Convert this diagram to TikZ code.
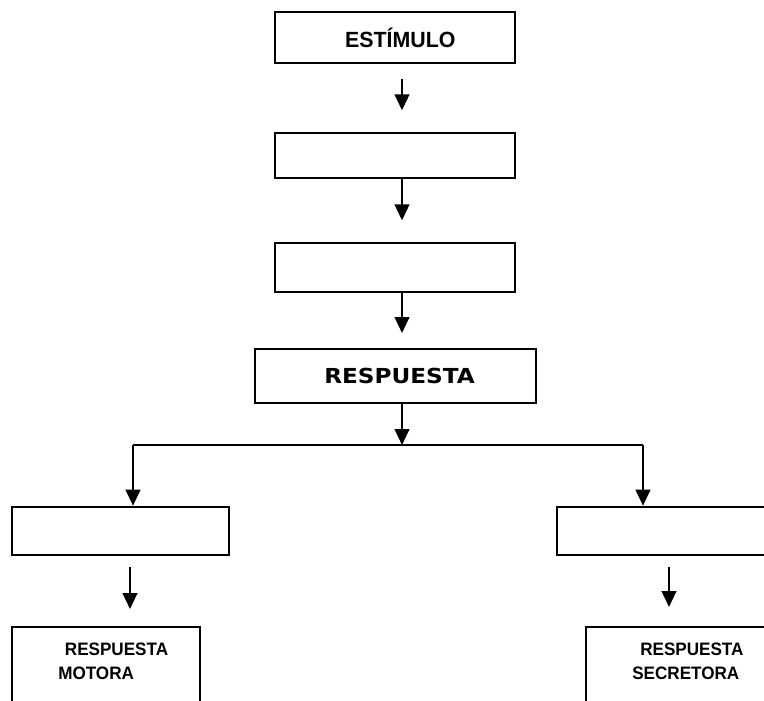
\documentclass[tikz,border=0pt]{standalone}
\usepackage{fontspec}
\setmainfont{Liberation Sans}
\newfontfamily\redonda{DejaVu Sans}
\usetikzlibrary{arrows.meta}

\begin{document}
\begin{tikzpicture}[x=0.75pt,y=-0.75pt,
  caja/.style={draw,line width=1.6pt,inner sep=0pt,outer sep=0pt},
  flecha/.style={line width=1.6pt,-{Triangle[length=12pt,width=11pt]}},
  rotulo/.style={inner sep=0pt,align=left,anchor=north west,
    font=\bfseries\fontsize{13.5}{18}\selectfont}]
\useasboundingbox (0,0) rectangle (764,700);
% eje central y ramas
\coordinate (eje) at (402,0);
\coordinate (cruce) at (402,445);
\coordinate (izq) at (133,445);
\coordinate (der) at (643,445);
\coordinate (ejeizq) at (130,0);
\coordinate (ejeder) at (669,0);
% cajas de la cadena
\node[caja,minimum width=180pt,minimum height=38pt,
  font=\bfseries\fontsize{16.5}{19}\selectfont] (estimulo) at (395,37.5)
  {\hspace*{8pt}\scalebox{0.97}[1]{ESTÍMULO}};
\node[caja,minimum width=180pt,minimum height=33.75pt] (paso1) at (395,155.5) {};
\node[caja,minimum width=180pt,minimum height=36.75pt] (paso2) at (395,267.5) {};
\node[caja,minimum width=210.75pt,minimum height=40.5pt,
  font=\redonda\bfseries\fontsize{15.5}{18}\selectfont] (respuesta) at (395.5,376)
  {\hspace*{6pt}\scalebox{1.12}[1]{RESPUESTA}};
% ramas
\node[caja,minimum width=162.75pt,minimum height=36pt] (motor1) at (120.5,531) {};
\node[caja,minimum width=195pt,minimum height=36pt] (secre1) at (687,531) {};
\node[caja,minimum width=141pt,minimum height=75pt] (motora) at (106,677) {};
\node[caja,minimum width=180pt,minimum height=75pt] (secretora) at (706,677) {};
\node[rotulo] (tmotora) at (58,643) {\hspace*{5pt}\scalebox{0.95}[1]{RESPUESTA}\\\scalebox{0.95}[1]{MOTORA}};
\node[rotulo] (tsecretora) at (632,643) {\hspace*{6pt}\scalebox{0.95}[1]{RESPUESTA}\\\scalebox{0.95}[1]{SECRETORA}};

\draw[flecha,shorten <=12pt,shorten >=17pt] (estimulo.south -| eje) -- (paso1.north -| eje);
\draw[flecha,shorten >=17pt] (paso1.south -| eje) -- (paso2.north -| eje);
\draw[flecha,shorten >=12pt] (paso2.south -| eje) -- (respuesta.north -| eje);
\draw[flecha] (respuesta.south -| eje) -- (cruce);
\draw[line width=1.6pt] (izq) -- (der);
\draw[flecha,shorten >=1pt] (izq) -- (motor1.north -| izq);
\draw[flecha,shorten >=1pt] (der) -- (secre1.north -| der);
\draw[flecha,shorten <=9pt,shorten >=13.5pt] (motor1.south -| ejeizq) -- (motora.north -| ejeizq);
\draw[flecha,shorten <=9pt,shorten >=15pt] (secre1.south -| ejeder) -- (secretora.north -| ejeder);
\end{tikzpicture}
\end{document}
